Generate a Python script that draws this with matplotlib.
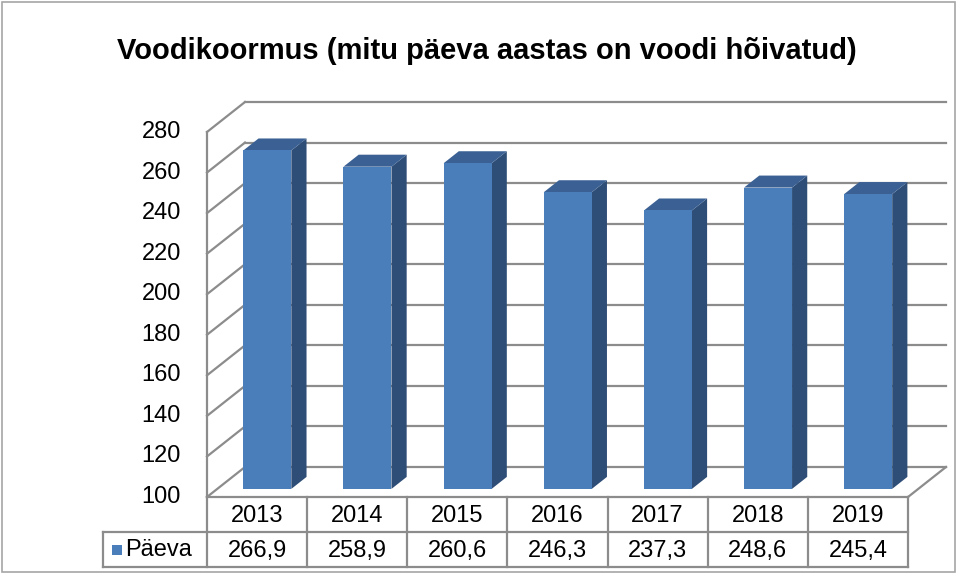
"""Excel-style 3D column chart with a data table (bed occupancy days)."""

import matplotlib.pyplot as plt
from matplotlib.patches import Polygon, Rectangle

years = ["2013", "2014", "2015", "2016", "2017", "2018", "2019"]
values = [266.9, 258.9, 260.6, 246.3, 237.3, 248.6, 245.4]
value_labels = ["266,9", "258,9", "260,6", "246,3", "237,3", "248,6", "245,4"]
y_ticks = [100, 120, 140, 160, 180, 200, 220, 240, 260, 280]
series_name = "Päeva"
title = "Voodikoormus (mitu päeva aastas on voodi hõivatud)"

# Plot geometry in pixels (front plane of the 3D box)
X0, X1 = 207, 908          # front floor left / right
Y_TOP, Y_BOT = 132, 497    # pixel rows for 280 and 100 on the front plane
V_MIN, V_MAX = 100, 280
DEPTH_X, DEPTH_Y = 38, -30  # offset of the back wall
ROW_H = 35
LEGEND_X = 103

FRONT = "#4A7EBB"
SIDE = "#2E4E78"
TOP = "#3B6194"
GRID = "#8C8C8C"
TABLE = "#8C8C8C"
FONT = "Liberation Sans"
FS = 17


def py(v):
    return Y_BOT - (v - V_MIN) / (V_MAX - V_MIN) * (Y_BOT - Y_TOP)


def proj(x, y, d):
    """Shift a front-plane point back by depth fraction d."""
    return (x + DEPTH_X * d, y + DEPTH_Y * d)


fig = plt.figure(figsize=(9.59, 5.75), dpi=100)
ax = fig.add_axes([0, 0, 1, 1])
ax.set_xlim(0, 959)
ax.set_ylim(575, 0)
ax.axis("off")

# Outer chart frame
ax.add_patch(Rectangle((2, 2), 953, 570, fill=False, edgecolor="#A6A6A6", lw=1.2))

ax.text(487, 51, title, ha="center", va="center", fontsize=21,
        fontweight="bold", family=FONT)

# Walls: gridlines on the back wall and the left wall
for t in y_ticks:
    y = py(t)
    bx, by = proj(X0, y, 1)
    ex, _ = proj(X1, y, 1)
    ax.plot([X0, bx], [y, by], color=GRID, lw=1.6, zorder=1)
    ax.plot([bx, ex], [by, by], color=GRID, lw=1.6, zorder=1)
    ax.text(X0 - 26, y, str(t), ha="right", va="center", fontsize=FS,
            family=FONT)
ax.plot([X0, X0], [py(V_MAX), py(V_MIN)], color=GRID, lw=1.6, zorder=1)
# right edge of the floor
fx, fy = proj(X1, py(V_MIN), 1)
ax.plot([X1, fx], [py(V_MIN), fy], color=GRID, lw=1.6, zorder=1)

# Bars
col_w = (X1 - X0) / len(years)
bar_w = 48
d_front, d_back = 0.27, 0.67
for i, v in enumerate(values):
    cx = X0 + col_w * (i + 0.5)
    xl, xr = cx - bar_w / 2, cx + bar_w / 2
    yb, yt = py(V_MIN), py(v)
    f = [proj(xl, yb, d_front), proj(xr, yb, d_front),
         proj(xr, yt, d_front), proj(xl, yt, d_front)]
    s = [proj(xr, yb, d_front), proj(xr, yb, d_back),
         proj(xr, yt, d_back), proj(xr, yt, d_front)]
    tp = [proj(xl, yt, d_front), proj(xr, yt, d_front),
          proj(xr, yt, d_back), proj(xl, yt, d_back)]
    ax.add_patch(Polygon(s, closed=True, facecolor=SIDE, edgecolor="none", zorder=3))
    ax.add_patch(Polygon(tp, closed=True, facecolor=TOP, edgecolor="none", zorder=3))
    ax.add_patch(Polygon(f, closed=True, facecolor=FRONT, edgecolor="none", zorder=4))

# Data table
y_r0, y_r1, y_r2 = Y_BOT, Y_BOT + ROW_H, Y_BOT + 2 * ROW_H
ax.plot([X0, X1], [y_r0, y_r0], color=TABLE, lw=1.6, zorder=5)
ax.plot([LEGEND_X, X1], [y_r1, y_r1], color=TABLE, lw=1.6, zorder=5)
ax.plot([LEGEND_X, X1], [y_r2, y_r2], color=TABLE, lw=1.6, zorder=5)
ax.plot([LEGEND_X, LEGEND_X], [y_r1, y_r2], color=TABLE, lw=1.6, zorder=5)
for i in range(len(years) + 1):
    x = X0 + col_w * i
    ax.plot([x, x], [y_r0, y_r2], color=TABLE, lw=1.6, zorder=5)
for i, (yr, lab) in enumerate(zip(years, value_labels)):
    cx = X0 + col_w * (i + 0.5)
    ax.text(cx, (y_r0 + y_r1) / 2 + 2, yr, ha="center", va="center",
            fontsize=FS, family=FONT)
    ax.text(cx, (y_r1 + y_r2) / 2 + 1, lab, ha="center", va="center",
            fontsize=FS, family=FONT)

# Legend key inside the table
ax.add_patch(Rectangle((LEGEND_X + 9, (y_r1 + y_r2) / 2 - 5), 10, 10,
                       facecolor=FRONT, edgecolor="none", zorder=5))
ax.text(LEGEND_X + 22, (y_r1 + y_r2) / 2 + 1, series_name, ha="left",
        va="center", fontsize=FS, family=FONT)

fig.savefig("out.png", dpi=100)
plt.close(fig)
